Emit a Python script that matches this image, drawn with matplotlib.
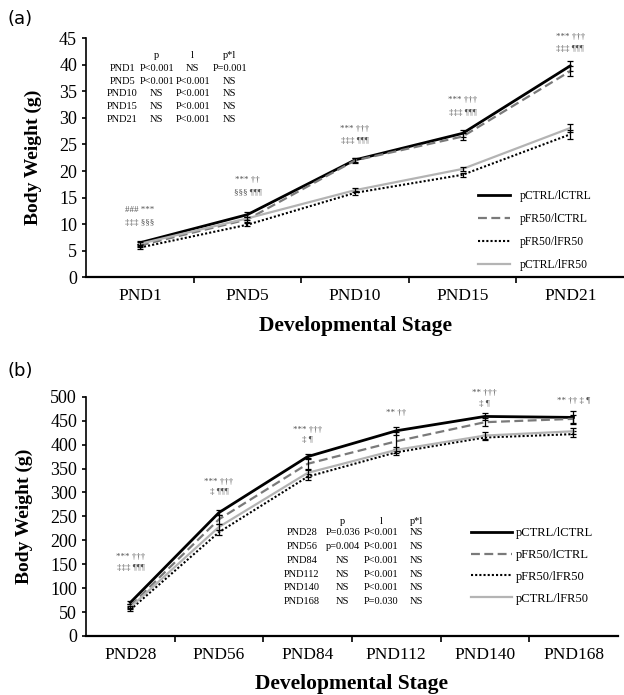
import matplotlib
matplotlib.use("Agg")
import matplotlib.pyplot as plt
import numpy as np

plt.rcParams['font.family'] = ['Liberation Serif', 'DejaVu Serif']
plt.rcParams['xtick.direction'] = 'out'
plt.rcParams['ytick.direction'] = 'out'

groups = ['pCTRL/lCTRL', 'pFR50/lCTRL', 'pFR50/lFR50', 'pCTRL/lFR50']

# panel (a): pre-weaning
stages_a = ['PND1', 'PND5', 'PND10', 'PND15', 'PND21']
bw_a = {
    'pCTRL/lCTRL': [6.5, 11.8, 22.1, 27.1, 39.8],
    'pFR50/lCTRL': [6.0, 10.9, 22.0, 26.5, 38.8],
    'pFR50/lFR50': [5.6, 9.9, 15.9, 19.3, 26.9],
    'pCTRL/lFR50': [6.3, 11.1, 16.4, 20.4, 28.1],
}
err_a = {
    'pCTRL/lCTRL': [0.3, 0.4, 0.4, 0.7, 0.9],
    'pFR50/lCTRL': [0.3, 0.4, 0.4, 0.6, 0.9],
    'pFR50/lFR50': [0.3, 0.3, 0.4, 0.4, 0.8],
    'pCTRL/lFR50': [0.3, 0.3, 0.4, 0.4, 0.8],
}
table_a = [
    ['', 'p', 'l', 'p*l'],
    ['PND1', 'P<0.001', 'NS', 'P=0.001'],
    ['PND5', 'P<0.001', 'P<0.001', 'NS'],
    ['PND10', 'NS', 'P<0.001', 'NS'],
    ['PND15', 'NS', 'P<0.001', 'NS'],
    ['PND21', 'NS', 'P<0.001', 'NS'],
]
sig_a = [
    ['### ***', '‡‡‡ §§§'],
    ['*** ††', '§§§ ¶¶¶'],
    ['*** †††', '‡‡‡ ¶¶¶'],
    ['*** †††', '‡‡‡ ¶¶¶'],
    ['*** †††', '‡‡‡ ¶¶¶'],
]
sig_a_y = [12.6, 18.3, 28.0, 33.3, 45.3]

# panel (b): post-weaning
stages_b = ['PND28', 'PND56', 'PND84', 'PND112', 'PND140', 'PND168']
bw_b = {
    'pCTRL/lCTRL': [70, 258, 375, 429, 459, 457],
    'pFR50/lCTRL': [63, 244, 360, 407, 447, 454],
    'pFR50/lFR50': [55, 217, 333, 384, 415, 422],
    'pCTRL/lFR50': [60, 228, 341, 389, 419, 428],
}
err_b = {
    'pCTRL/lCTRL': [3, 6, 6, 8, 8, 13],
    'pFR50/lCTRL': [3, 9, 12, 20, 9, 9],
    'pFR50/lFR50': [3, 5, 6, 6, 6, 6],
    'pCTRL/lFR50': [3, 6, 8, 6, 7, 6],
}
table_b = [
    ['', 'p', 'l', 'p*l'],
    ['PND28', 'P=0.036', 'P<0.001', 'NS'],
    ['PND56', 'p=0.004', 'P<0.001', 'NS'],
    ['PND84', 'NS', 'P<0.001', 'NS'],
    ['PND112', 'NS', 'P<0.001', 'NS'],
    ['PND140', 'NS', 'P<0.001', 'NS'],
    ['PND168', 'NS', 'P=0.030', 'NS'],
]
sig_b = [
    ['*** †††', '‡‡‡ ¶¶¶'],
    ['*** †††', '‡ ¶¶¶'],
    ['*** †††', '‡ ¶'],
    ['** ††', ''],
    ['** †††', '‡ ¶'],
    ['** †† ‡ ¶', ''],
]
sig_b_y = [165, 322, 431, 466, 508, 491]

styles = {
    'pCTRL/lCTRL': dict(color='black', lw=2.0, ls='-'),
    'pFR50/lCTRL': dict(color='#7a7a7a', lw=1.6, ls=(0, (4, 2))),
    'pFR50/lFR50': dict(color='black', lw=1.5, ls=(0, (1, 1))),
    'pCTRL/lFR50': dict(color='#b4b4b4', lw=1.6, ls='-'),
}


def draw_panel(ax, stages, bw, err, ylim, ystep):
    x = np.arange(len(stages))
    for g in groups:
        st = styles[g]
        ax.plot(x, bw[g], label=g, **st)
        ax.errorbar(x, bw[g], yerr=err[g], fmt='none', ecolor='black',
                    elinewidth=0.9, capsize=2.5, capthick=0.9)
    ax.set_xlim(-0.5, len(stages) - 0.5)
    ax.set_ylim(*ylim)
    ax.set_yticks(np.arange(ylim[0], ylim[1] + 1, ystep))
    # category labels centred, ticks between categories
    ax.set_xticks(x)
    ax.set_xticklabels(stages)
    ax.tick_params(axis='x', length=0, labelsize=12.5, pad=8)
    ax.set_xticks(np.arange(0.5, len(stages) - 0.5), minor=True)
    ax.tick_params(axis='x', which='minor', length=4, width=1.2)
    ax.tick_params(axis='y', labelsize=13, length=3, width=1.2)
    for s in ['top', 'right']:
        ax.spines[s].set_visible(False)
    ax.spines['left'].set_linewidth(1.2)
    ax.spines['bottom'].set_linewidth(1.6)
    ax.set_ylabel('Body Weight (g)', fontsize=14, fontweight='bold',
                  labelpad=12)
    ax.set_xlabel('Developmental Stage', fontsize=15.5, fontweight='bold',
                  labelpad=8)


def draw_table(ax, rows, xs, ys, fs):
    for r, row in enumerate(rows):
        for c, cell in enumerate(row):
            ax.text(xs[c], ys[r], cell, transform=ax.transAxes, ha='center',
                    va='center', fontsize=fs)


def draw_sig(ax, sig, sig_y, gap):
    for i, (top, bot) in enumerate(sig):
        ax.text(i, sig_y[i], top, ha='center', va='center', fontsize=6.5,
                color='#555555')
        if bot:
            ax.text(i, sig_y[i] - gap, bot, ha='center', va='center',
                    fontsize=6.5, color='#555555')


fig = plt.figure(figsize=(6.24, 6.95), dpi=100)
ax1 = fig.add_axes([0.138, 0.601, 0.862, 0.344])
ax2 = fig.add_axes([0.138, 0.085, 0.852, 0.344])

draw_panel(ax1, stages_a, bw_a, err_a, (0, 45), 5)
draw_table(ax1, table_a, [0.067, 0.131, 0.198, 0.267],
           [0.929, 0.874, 0.820, 0.770, 0.715, 0.661], 7.5)
draw_sig(ax1, sig_a, sig_a_y, 2.3)
ax1.legend(loc='upper left', bbox_to_anchor=(0.72, 0.385), frameon=False,
           fontsize=8.4, handlelength=2.7, labelspacing=0.95,
           handletextpad=0.9, borderaxespad=0)

draw_panel(ax2, stages_b, bw_b, err_b, (0, 500), 50)
draw_table(ax2, table_b, [0.406, 0.483, 0.555, 0.622],
           [0.477, 0.431, 0.372, 0.314, 0.255, 0.201, 0.142], 7.5)
draw_sig(ax2, sig_b, sig_b_y, 22)
ax2.legend(loc='upper left', bbox_to_anchor=(0.715, 0.475), frameon=False,
           fontsize=9.0, handlelength=3.3, labelspacing=0.78,
           handletextpad=0.3, borderaxespad=0)

fig.text(0.012, 0.972, '(a)', fontsize=13, family='DejaVu Sans', va='center')
fig.text(0.012, 0.466, '(b)', fontsize=13, family='DejaVu Sans', va='center')

fig.savefig('out.png', dpi=100)
